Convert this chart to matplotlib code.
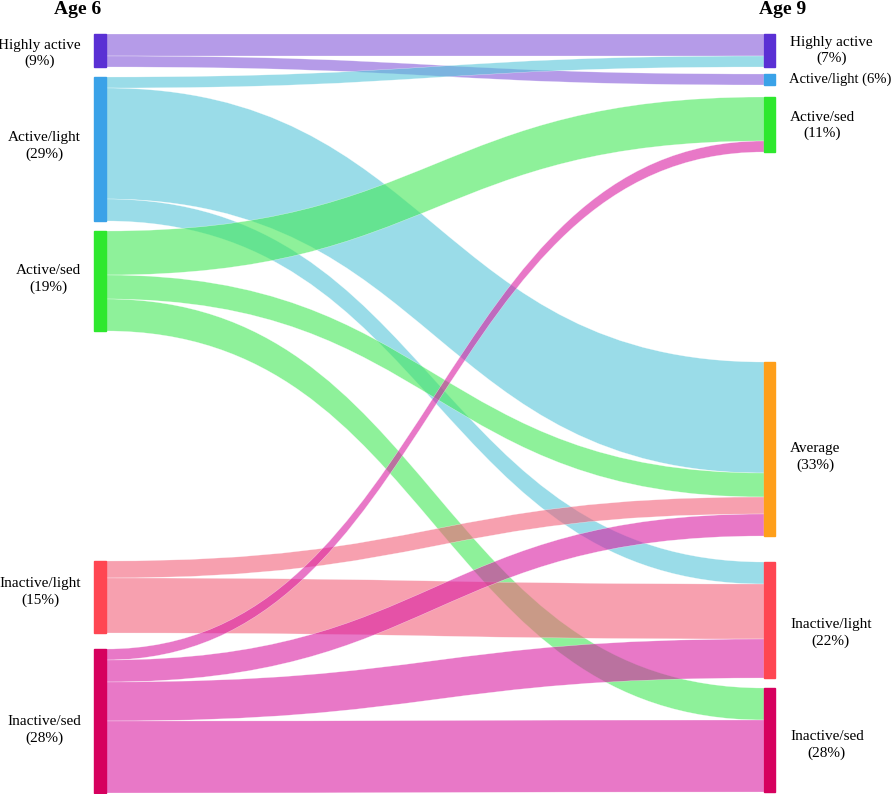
import matplotlib.pyplot as plt
from matplotlib.path import Path
from matplotlib.patches import PathPatch, Rectangle

# age 6 groups (left) and age 9 groups (right)
age6_names = ["Highly active", "Active/light", "Active/sed", "Inactive/light", "Inactive/sed"]
age6_pct = [9, 29, 19, 15, 28]
age9_names = ["Highly active", "Active/light", "Active/sed", "Average", "Inactive/light", "Inactive/sed"]
age9_pct = [7, 6, 11, 33, 22, 28]

# flows: source index (age 6), target index (age 9), size
flow_src = [0, 0, 1, 1, 1, 2, 2, 2, 3, 3, 4, 4, 4, 4]
flow_dst = [0, 1, 0, 3, 4, 2, 3, 5, 3, 4, 2, 3, 4, 5]
flow_val = [22, 11, 11, 111, 22, 44, 24, 32, 17, 55, 11, 22, 39, 72]

# layout
left_gaps = [34, 10, 10, 230, 16]
right_gaps = [34, 7, 12, 210, 26, 10]
x_left, x_right, node_w = 94, 764, 12
left_colors = ["#5a30d4", "#3aa2e8", "#2ee82e", "#ff4652", "#d6005e"]
right_colors = ["#5a30d4", "#3aa2e8", "#2ee82e", "#ff9f1a", "#ff4652", "#d6005e"]
flow_colors = ["#8458d9", "#57c6d9", "#43e957", "#f2617b", "#d91ea3"]
left_label_dy = [3, -3, -2, -5, 9]
right_label_dy = [0, 0, 1, 8, 13, 5]


def node_sizes(n, idx_list):
    sizes = [0] * n
    for i, v in zip(idx_list, flow_val):
        sizes[i] += v
    return sizes


def stack(sizes, gaps):
    tops = []
    y = 0
    for s, g in zip(sizes, gaps):
        y += g
        tops.append(y)
        y += s
    return tops


left_sizes = node_sizes(len(age6_names), flow_src)
right_sizes = node_sizes(len(age9_names), flow_dst)
left_tops = stack(left_sizes, left_gaps)
right_tops = stack(right_sizes, right_gaps)

fig = plt.figure(figsize=(8.94, 7.94), dpi=100)
ax = fig.add_axes([0, 0, 1, 1])
ax.set_xlim(0, 894)
ax.set_ylim(794, 0)
ax.axis("off")

# offsets inside each node, left sorted by target, right sorted by source
left_off = list(left_tops)
right_off = list(right_tops)
order_left = sorted(range(len(flow_val)), key=lambda k: (flow_src[k], flow_dst[k]))
starts = {}
for k in order_left:
    starts[k] = left_off[flow_src[k]]
    left_off[flow_src[k]] += flow_val[k]
order_right = sorted(range(len(flow_val)), key=lambda k: (flow_dst[k], flow_src[k]))
ends = {}
for k in order_right:
    ends[k] = right_off[flow_dst[k]]
    right_off[flow_dst[k]] += flow_val[k]

x0 = x_left + node_w
x1 = x_right
xm = (x0 + x1) / 2
for k in range(len(flow_val)):
    y0, y1, v = starts[k], ends[k], flow_val[k]
    verts = [(x0, y0), (xm, y0), (xm, y1), (x1, y1),
             (x1, y1 + v), (xm, y1 + v), (xm, y0 + v), (x0, y0 + v), (x0, y0)]
    codes = [Path.MOVETO, Path.CURVE4, Path.CURVE4, Path.CURVE4,
             Path.LINETO, Path.CURVE4, Path.CURVE4, Path.CURVE4, Path.CLOSEPOLY]
    ax.add_patch(PathPatch(Path(verts, codes), facecolor=flow_colors[flow_src[k]],
                           edgecolor="white", lw=0.3, alpha=0.6))

font = "Liberation Serif"
for i, name in enumerate(age6_names):
    ax.add_patch(Rectangle((x_left, left_tops[i]), node_w, left_sizes[i], color=left_colors[i]))
    yc = left_tops[i] + left_sizes[i] / 2 + left_label_dy[i]
    ax.text(x_left - 13, yc, f"{name}\n({age6_pct[i]}%)", ha="right", va="center",
            multialignment="center", fontsize=11, family=font, linespacing=1.3)

for i, name in enumerate(age9_names):
    ax.add_patch(Rectangle((x_right, right_tops[i]), node_w - 1, right_sizes[i], color=right_colors[i]))
    yc = right_tops[i] + right_sizes[i] / 2 + right_label_dy[i]
    if right_sizes[i] < 20:
        ax.text(x_right + 25, yc, f"{name} ({age9_pct[i]}%)", ha="left", va="center",
                fontsize=10.5, family=font)
    else:
        ax.text(x_right + 26, yc, f"{name}\n({age9_pct[i]}%)", ha="left", va="center",
                multialignment="center", fontsize=11, family=font, linespacing=1.3)

ax.text(78, 9, "Age 6", ha="center", va="center", fontsize=14, fontweight="bold", family=font)
ax.text(783, 9, "Age 9", ha="center", va="center", fontsize=14, fontweight="bold", family=font)

fig.savefig("out.png", dpi=100)
